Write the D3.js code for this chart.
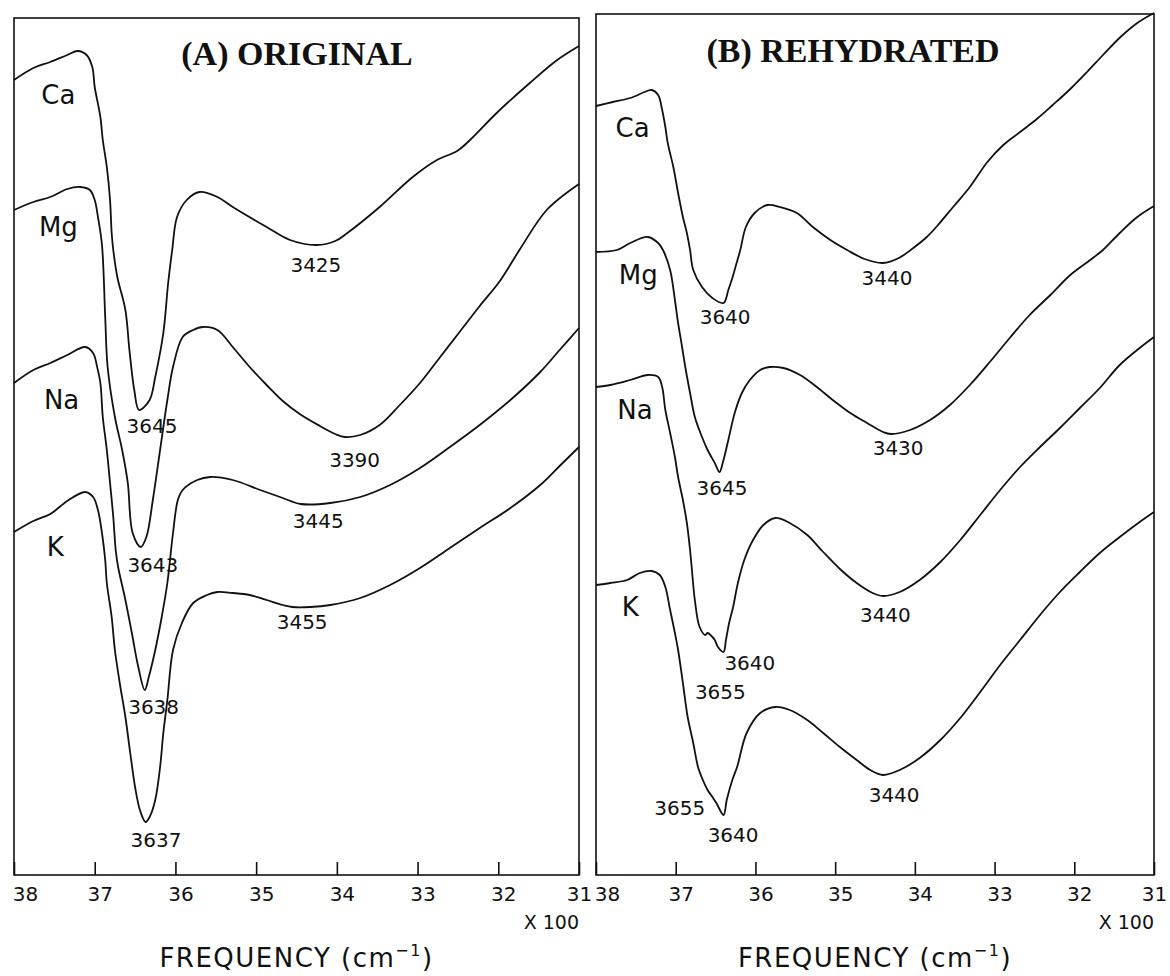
<!DOCTYPE html>
<html>
<head>
<meta charset="utf-8">
<script src="https://cdn.jsdelivr.net/npm/d3@7"></script>
<style>
  html, body { margin: 0; padding: 0; background: #fff; }
  svg { display: block; }
  text { font-family: "DejaVu Sans", "Liberation Sans", sans-serif; fill: #111; }
  .title { font-family: "Liberation Serif", "Times New Roman", serif; font-weight: bold; }
</style>
</head>
<body>
<svg id="chart" width="1170" height="976"></svg>
<script>
// Frequency axis (cm^-1), labelled in hundreds
const freqTicks = [3800, 3700, 3600, 3500, 3400, 3300, 3200, 3100];
const tickLabels = ["38", "37", "36", "35", "34", "33", "32", "31"];
const cations = ["Ca", "Mg", "Na", "K"];
const panelTitles = ["(A) ORIGINAL", "(B) REHYDRATED"];

// Spectra: [frequency cm^-1, transmittance (arb., offset)]
// (A) original samples
const origCa = [[3800,79.5],[3776,80.7],[3755,81.3],[3734,82.0],[3721,82.4],[3710,82.0],[3703,80.8],[3700,78.8],[3693,75.8],[3690,73.5],[3685,70.8],[3681,67.5],[3679,64.2],[3677,62.5],[3672,59.8],[3662,56.5],[3657,52.5],[3651,48.5],[3645,46.5],[3632,47.5],[3625,49.8],[3615,54.2],[3609,59.2],[3604,62.5],[3598,65.8],[3586,67.5],[3570,68.3],[3548,67.8],[3529,66.8],[3487,64.8],[3458,63.5],[3425,63.0],[3402,63.4],[3387,64.2],[3347,66.8],[3306,69.8],[3276,71.5],[3251,72.4],[3235,73.5],[3202,76.2],[3161,79.2],[3127,81.5],[3100,82.9]];
const origMg = [[3800,66.5],[3776,67.3],[3755,67.8],[3734,68.6],[3718,68.8],[3706,68.5],[3700,67.5],[3696,65.8],[3691,63.0],[3687,55.8],[3684,50.8],[3675,45.8],[3666,42.5],[3659,39.2],[3653,34.2],[3643,32.8],[3636,33.8],[3628,37.5],[3619,42.5],[3610,47.5],[3603,50.8],[3591,53.8],[3578,54.5],[3566,54.8],[3548,54.5],[3529,52.8],[3508,50.8],[3487,49.0],[3467,47.4],[3446,46.1],[3421,44.9],[3402,44.1],[3390,43.8],[3371,44.0],[3347,45.0],[3322,47.0],[3297,49.2],[3272,51.8],[3247,54.4],[3223,56.9],[3198,59.4],[3173,62.6],[3140,66.5],[3100,69.1]];
const origNa = [[3800,49.2],[3776,50.5],[3755,51.2],[3734,52.0],[3712,52.8],[3702,52.2],[3697,50.8],[3693,49.2],[3690,45.8],[3685,42.5],[3681,39.2],[3677,35.8],[3674,32.5],[3671,30.8],[3662,27.5],[3654,24.2],[3646,20.8],[3638,18.5],[3633,19.8],[3625,22.5],[3617,25.8],[3610,29.2],[3603,34.2],[3597,37.5],[3591,38.5],[3573,39.5],[3557,39.8],[3529,39.5],[3495,38.5],[3467,37.7],[3445,37.1],[3408,37.2],[3371,37.8],[3334,39.0],[3297,40.7],[3260,42.8],[3223,45.0],[3185,47.5],[3148,50.3],[3124,52.5],[3100,54.7]];
const origK = [[3800,34.3],[3776,35.4],[3755,36.1],[3734,37.4],[3712,38.3],[3702,37.8],[3696,36.5],[3691,34.2],[3687,31.5],[3685,29.2],[3679,25.8],[3675,22.5],[3669,19.2],[3662,15.8],[3656,12.2],[3650,8.8],[3644,6.5],[3637,5.3],[3632,5.8],[3625,7.5],[3619,10.8],[3615,14.2],[3610,17.5],[3603,22.5],[3592,25.2],[3578,27.2],[3561,28.0],[3548,28.3],[3529,28.2],[3508,28.0],[3487,27.5],[3467,27.0],[3455,26.8],[3433,26.8],[3408,27.0],[3371,27.7],[3334,29.0],[3297,30.7],[3260,32.7],[3223,34.7],[3185,36.7],[3148,39.0],[3124,40.9],[3100,42.8]];

// (B) rehydrated samples
const rehyCa = [[3800,76.9],[3779,77.3],[3757,77.7],[3736,78.4],[3730,78.5],[3722,78.0],[3717,76.5],[3713,74.8],[3710,73.2],[3703,70.8],[3697,68.2],[3691,65.8],[3686,64.2],[3682,62.5],[3678,60.5],[3667,58.8],[3654,57.7],[3640,57.2],[3634,58.5],[3629,59.7],[3624,61.1],[3619,62.5],[3612,64.8],[3601,66.2],[3585,67.0],[3569,66.8],[3548,66.2],[3528,64.8],[3506,63.5],[3485,62.5],[3463,61.6],[3440,61.2],[3420,61.7],[3402,62.7],[3385,63.8],[3372,64.9],[3352,66.8],[3331,68.8],[3309,71.3],[3289,73.0],[3268,74.3],[3247,75.6],[3227,77.0],[3205,78.6],[3184,80.3],[3164,82.0],[3142,83.8],[3121,85.2],[3100,86.2]];
const rehyMg = [[3800,62.3],[3774,62.5],[3757,63.2],[3735,63.8],[3722,63.2],[3716,62.5],[3707,60.5],[3701,57.5],[3697,55.2],[3692,52.8],[3688,50.8],[3682,48.2],[3676,45.8],[3667,43.8],[3660,42.5],[3651,41.2],[3645,40.3],[3641,41.2],[3634,43.5],[3626,46.2],[3617,48.2],[3607,49.5],[3594,50.5],[3582,50.8],[3565,50.7],[3544,50.0],[3523,48.8],[3503,47.5],[3481,46.2],[3460,45.2],[3440,44.3],[3430,44.1],[3406,44.5],[3381,45.5],[3356,47.0],[3331,49.0],[3306,51.3],[3281,53.7],[3256,56.0],[3230,58.0],[3205,60.0],[3180,61.5],[3164,62.5],[3143,64.2],[3121,65.8],[3100,66.9]];
const rehyNa = [[3800,48.8],[3782,49.0],[3757,49.5],[3735,50.0],[3722,49.8],[3717,48.8],[3713,46.5],[3707,44.2],[3701,41.8],[3697,39.8],[3691,37.5],[3686,35.2],[3682,32.5],[3680,30.8],[3676,27.5],[3670,24.8],[3663,24.0],[3660,24.2],[3654,23.8],[3651,23.5],[3647,22.8],[3640,22.3],[3637,23.5],[3633,25.2],[3628,26.8],[3622,29.2],[3614,31.5],[3603,33.5],[3590,35.0],[3575,35.7],[3557,35.2],[3535,34.0],[3515,32.3],[3494,30.6],[3473,29.2],[3453,28.2],[3440,27.9],[3419,28.3],[3394,29.5],[3368,31.3],[3343,33.5],[3318,36.0],[3293,38.5],[3268,40.8],[3243,42.8],[3218,44.7],[3193,46.7],[3168,48.7],[3143,51.0],[3118,52.7],[3100,53.8]];
const rehyK = [[3800,29.0],[3782,29.2],[3761,29.5],[3745,30.2],[3730,30.4],[3720,30.0],[3713,28.8],[3707,26.5],[3701,24.2],[3697,22.5],[3691,19.2],[3685,15.8],[3678,13.2],[3672,10.8],[3666,9.5],[3660,8.5],[3654,7.8],[3649,7.2],[3640,6.0],[3636,7.5],[3629,9.5],[3623,10.8],[3611,14.2],[3594,16.2],[3575,16.8],[3557,16.5],[3535,15.5],[3515,14.2],[3494,12.8],[3473,11.5],[3456,10.5],[3440,10.0],[3419,10.5],[3394,11.7],[3368,13.5],[3343,15.7],[3318,18.3],[3293,21.0],[3268,23.5],[3243,26.0],[3218,28.3],[3193,30.3],[3168,32.2],[3143,33.8],[3118,35.3],[3100,36.3]];

// Band labels: [text, frequency, transmittance] of the label centre
const origBandLabels = [["3645",3629,44.9],["3425",3426,61.0],["3643",3628,31.0],["3390",3378,41.5],["3638",3627,16.8],["3445",3423,35.4],["3637",3624,3.5],["3455",3443,25.3]];
const rehyBandLabels = [["3640",3638,55.8],["3440",3435,59.7],["3645",3642,38.7],["3430",3421,42.7],["3640",3607,21.2],["3655",3644,18.3],["3440",3437,26.0],["3655",3695,6.7],["3640",3628,4.0],["3440",3426,8.0]];

// Cation name labels: [frequency, transmittance] of the label centre
const origNamePos = [[3745,78.0],[3745,64.8],[3741,47.5],[3749,32.8]];
const rehyNamePos = [[3754,74.7],[3747,60.0],[3751,46.5],[3757,26.8]];

const svg = d3.select("#chart");
const plotBottom = 875;
const y = d3.scaleLinear().domain([0, 86]).range([plotBottom, 15]);

const panels = [
  { x0: 14, x1: 579, top: 18, titleX: 297, titleY: 65, series: [origCa, origMg, origNa, origK], bands: origBandLabels, names: origNamePos },
  { x0: 596, x1: 1154, top: 14, titleX: 853, titleY: 62, series: [rehyCa, rehyMg, rehyNa, rehyK], bands: rehyBandLabels, names: rehyNamePos }
];

panels.forEach((p, pi) => {
  const x = d3.scaleLinear().domain([3800, 3100]).range([p.x0, p.x1]);
  const g = svg.append("g");

  // frame
  g.append("rect")
    .attr("x", p.x0).attr("y", p.top)
    .attr("width", p.x1 - p.x0).attr("height", plotBottom - p.top)
    .attr("fill", "none").attr("stroke", "#111").attr("stroke-width", 1.6);

  // frequency axis with inward ticks
  const axis = d3.axisBottom(x)
    .tickValues(freqTicks)
    .tickSizeInner(-13).tickSizeOuter(0).tickPadding(12)
    .tickFormat((d, i) => tickLabels[i]);
  const ax = g.append("g")
    .attr("transform", `translate(0,${plotBottom})`)
    .call(axis);
  ax.attr("font-size", null).attr("font-family", null);
  ax.select(".domain").remove();
  ax.selectAll(".tick line").attr("stroke", "#111").attr("stroke-width", 1.6);
  ax.selectAll(".tick text")
    .attr("fill", "#111")
    .style("font-size", "20px")
    .style("font-family", "'DejaVu Sans', sans-serif")
    .attr("dx", (d, i) => i === 0 ? 11 : (i === freqTicks.length - 1 ? 0 : 5));

  // spectra
  const line = d3.line()
    .x(d => x(d[0])).y(d => y(d[1]))
    .curve(d3.curveCatmullRom.alpha(0.5));
  g.selectAll("path.spectrum").data(p.series).enter().append("path")
    .attr("class", "spectrum")
    .attr("d", line)
    .attr("fill", "none").attr("stroke", "#111")
    .attr("stroke-width", 1.8).attr("stroke-linejoin", "round");

  // cation names
  g.selectAll("text.cation").data(p.names).enter().append("text")
    .attr("class", "cation")
    .attr("x", d => x(d[0])).attr("y", d => y(d[1]))
    .attr("dy", "0.36em").attr("text-anchor", "middle")
    .attr("font-size", 26)
    .text((d, i) => cations[i]);

  // band position labels
  g.selectAll("text.band").data(p.bands).enter().append("text")
    .attr("class", "band")
    .attr("x", d => x(d[1])).attr("y", d => y(d[2]))
    .attr("dy", "0.36em").attr("text-anchor", "middle")
    .attr("font-size", 20)
    .text(d => d[0]);

  // panel title
  g.append("text").attr("class", "title")
    .attr("x", p.titleX).attr("y", p.titleY)
    .attr("text-anchor", "middle").attr("font-size", 34)
    .text(panelTitles[pi]);

  // axis multiplier
  g.append("text")
    .attr("x", p.x1).attr("y", 929)
    .attr("text-anchor", "end").attr("font-size", 19)
    .text("X 100");

  // axis title
  const t = g.append("text")
    .attr("x", (p.x0 + p.x1) / 2).attr("y", 967)
    .attr("text-anchor", "middle").attr("font-size", 26)
    .attr("letter-spacing", 1.5);
  t.append("tspan").text("FREQUENCY (cm");
  t.append("tspan").attr("dy", -11).attr("font-size", 16).text("\u22121");
  t.append("tspan").attr("dy", 11).text(")");
});
</script>
</body>
</html>
